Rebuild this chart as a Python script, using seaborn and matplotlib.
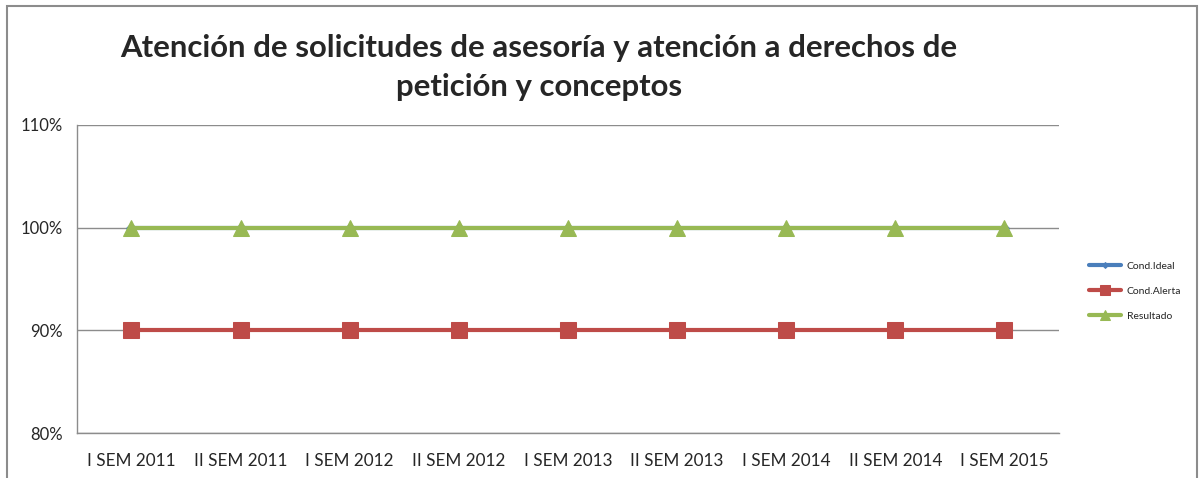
import pandas as pd
import matplotlib.pyplot as plt
import matplotlib.ticker as mtick
from matplotlib.patches import Rectangle
import seaborn as sns

# chart data
periodos = ['I SEM 2011', 'II SEM 2011', 'I SEM 2012', 'II SEM 2012', 'I SEM 2013',
            'II SEM 2013', 'I SEM 2014', 'II SEM 2014', 'I SEM 2015']
cond_ideal = [1.0, 1.0, 1.0, 1.0, 1.0, 1.0, 1.0, 1.0, 1.0]
cond_alerta = [0.9, 0.9, 0.9, 0.9, 0.9, 0.9, 0.9, 0.9, 0.9]
resultado = [1.0, 1.0, 1.0, 1.0, 1.0, 1.0, 1.0, 1.0, 1.0]

df = pd.DataFrame({
    'periodo': periodos * 3,
    'valor': cond_ideal + cond_alerta + resultado,
    'serie': ['Cond.Ideal'] * 9 + ['Cond.Alerta'] * 9 + ['Resultado'] * 9,
})

sns.set_style('white')
plt.rcParams['font.family'] = ['Lato', 'DejaVu Sans']

fig = plt.figure(figsize=(12, 4.78), dpi=100)
ax = fig.add_axes([0.064, 0.094, 0.8185, 0.6445])

colores = {'Cond.Ideal': '#4A7EBB', 'Cond.Alerta': '#BE4B48', 'Resultado': '#98B954'}
marcadores = {'Cond.Ideal': 'D', 'Cond.Alerta': 's', 'Resultado': '^'}
tamanos = {'Cond.Ideal': 5, 'Cond.Alerta': 11, 'Resultado': 11}

for serie in ['Cond.Ideal', 'Cond.Alerta', 'Resultado']:
    sub = df[df['serie'] == serie]
    sns.lineplot(data=sub, x='periodo', y='valor', ax=ax, color=colores[serie],
                 marker=marcadores[serie], markersize=tamanos[serie],
                 markeredgecolor=colores[serie], linewidth=3, label=serie, sort=False)

ax.set_xlim(-0.5, 8.5)
ax.set_ylim(0.8, 1.1)
ax.set_yticks([0.8, 0.9, 1.0, 1.1])
ax.yaxis.set_major_formatter(mtick.PercentFormatter(1.0, decimals=0))
ax.grid(axis='y', color='#8C8C8C', linewidth=1)
ax.set_axisbelow(True)
for s in ['top', 'right']:
    ax.spines[s].set_visible(False)
for s in ['left', 'bottom']:
    ax.spines[s].set_color('#8C8C8C')
    ax.spines[s].set_linewidth(1)
ax.tick_params(axis='x', labelsize=12.3, length=0, pad=14)
ax.tick_params(axis='y', labelsize=12, length=0, pad=10)
ax.set_xlabel('')
ax.set_ylabel('')

h, l = ax.get_legend_handles_labels()
ax.legend_.remove()
fig.legend(h, l, loc='center left', bbox_to_anchor=(0.9, 0.391), frameon=False,
           fontsize=7.5, handlelength=3.0, handletextpad=0.6, labelspacing=1.5,
           markerscale=0.6)

fig.text(0.449, 0.859, 'Atención de solicitudes de asesoría y atención a derechos de\npetición y conceptos',
         ha='center', va='center', fontsize=22.4, fontweight='bold', linespacing=1.45)

fig.patches.append(Rectangle((0.006, -0.02), 0.9915, 1.007, transform=fig.transFigure,
                             fill=False, edgecolor='#8C8C8C', linewidth=1.5))

plt.savefig('out.png', dpi=100)
